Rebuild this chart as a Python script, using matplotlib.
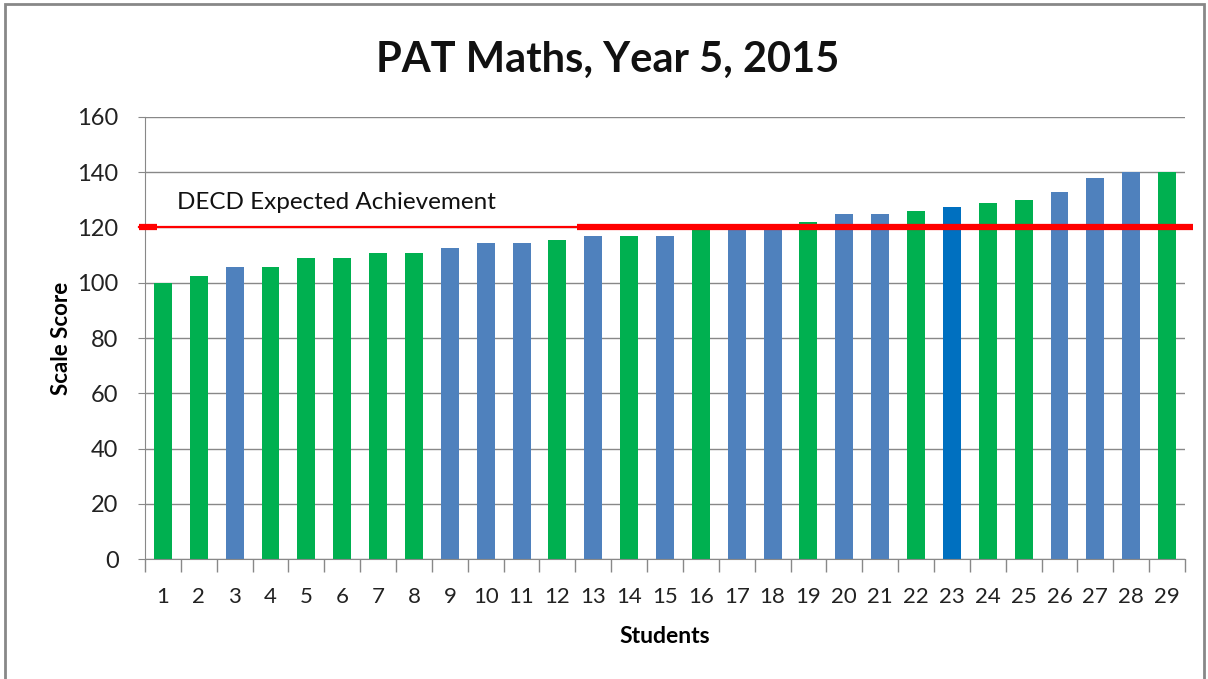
import matplotlib
matplotlib.use("Agg")
import matplotlib.pyplot as plt
from matplotlib.patches import Rectangle

plt.rcParams['font.family'] = ['Lato', 'DejaVu Sans']

# data
students = list(range(1, 30))
scores = [100, 102.4, 105.7, 105.7, 109, 109, 110.8, 110.8, 112.6, 114.4,
          114.4, 115.5, 117, 117, 117, 119.5, 120, 120, 122.1, 124.9,
          125, 125.9, 127.3, 128.8, 130, 132.7, 137.8, 140, 140]
groups = ["G", "G", "B", "G", "G", "G", "G", "G", "B", "B",
          "B", "G", "B", "G", "B", "G", "B", "B", "G", "B",
          "B", "G", "D", "G", "G", "B", "B", "B", "G"]
expected = 120
yticks = [0, 20, 40, 60, 80, 100, 120, 140, 160]

palette = {"G": "#00B050", "B": "#4F81BD", "D": "#0070C0"}
colors = [palette[g] for g in groups]

fig = plt.figure(figsize=(12.08, 6.79), dpi=100)
ax = fig.add_axes([0.12, 0.1767, 0.861, 0.651])

ax.bar(students, scores, width=0.5, color=colors, zorder=2)

ax.set_xlim(0.5, 29.5)
ax.set_ylim(0, 160)
ax.set_yticks(yticks)
ax.set_xticks(students)
ax.set_xticks([s + 0.5 for s in [0] + students], minor=True)
ax.tick_params(axis="x", which="major", length=0, labelsize=16, pad=20, colors="#222222")
ax.tick_params(axis="x", which="minor", length=9, color="#888888", width=1)
ax.tick_params(axis="y", length=5, color="#888888", labelsize=17, pad=14, labelcolor="#222222")
ax.grid(axis="y", color="#888888", linewidth=1, zorder=0)
for side in ["top", "right"]:
    ax.spines[side].set_visible(False)
for side in ["left", "bottom"]:
    ax.spines[side].set_color("#888888")

# expected achievement line: thin on the left part, thick on the right
ax.plot([0.33, 12.55], [expected, expected], color="#FF0000", linewidth=1.6, zorder=3, clip_on=False)
ax.plot([0.33, 0.83], [expected, expected], color="#FF0000", linewidth=4.5, zorder=3, clip_on=False,
        solid_capstyle="butt")
ax.plot([12.55, 29.72], [expected, expected], color="#FF0000", linewidth=4.5, zorder=3, clip_on=False,
        solid_capstyle="butt")
ax.text(1.4, expected + 9, "DECD Expected Achievement", fontsize=17.5, va="center", color="#111111")

ax.set_xlabel("Students", fontsize=16.5, fontweight="bold", labelpad=14)
ax.set_ylabel("Scale Score", fontsize=16, fontweight="bold", labelpad=4)
fig.text(0.503, 0.912, "PAT Maths, Year 5, 2015", fontsize=30, fontweight="bold",
         ha="center", va="center", color="#111111")

fig.patches.append(Rectangle((0.004, -0.01), 0.993, 1.004, transform=fig.transFigure,
                             fill=False, edgecolor="#888888", linewidth=2))

fig.savefig("out.png", dpi=100)
